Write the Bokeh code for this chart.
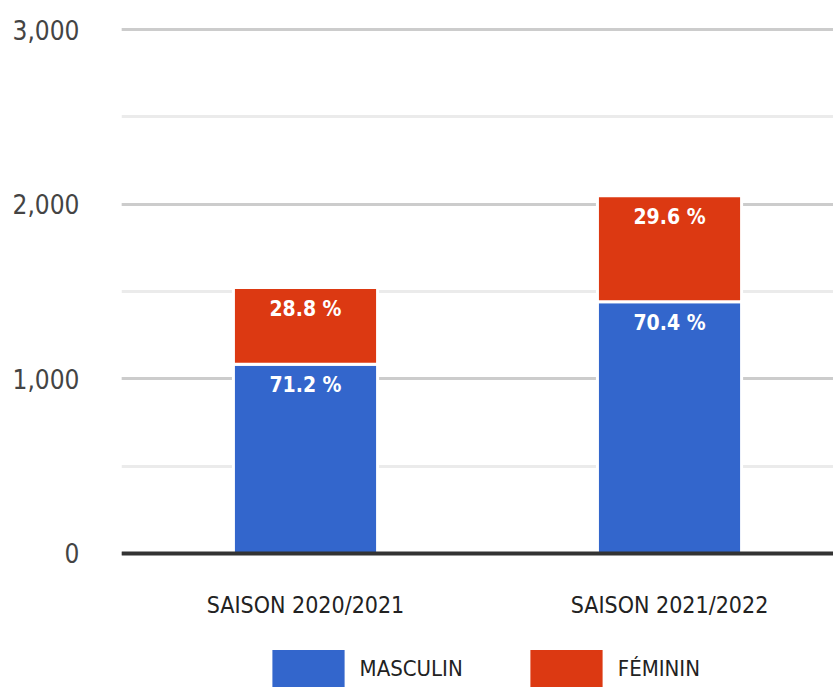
from bokeh.plotting import figure
from bokeh.models import (ColumnDataSource, Range1d, FixedTicker, SingleIntervalTicker,
                          NumeralTickFormatter, LabelSet)
from bokeh.core.properties import value
from bokeh.embed import file_html
from bokeh.resources import INLINE

# ---- data ----
seasons = ["SAISON 2020/2021", "SAISON 2021/2022"]
masculin = [1084, 1442]
feminin = [439, 607]
series_names = ["MASCULIN", "FÉMININ"]
colors = ["#3366cc", "#dc3912"]
y_min, y_max = 0, 3000

FONT = "DejaVu Sans Condensed"

x = [i + 0.5 for i in range(len(seasons))]
totals = [m + f for m, f in zip(masculin, feminin)]
masc_pct = ["%.1f %%" % (100.0 * m / t) for m, t in zip(masculin, totals)]
fem_pct = ["%.1f %%" % (100.0 * f / t) for f, t in zip(feminin, totals)]

source = ColumnDataSource(dict(
    x=x, masculin=masculin, feminin=feminin,
    masc_top=masculin, fem_top=totals,
    masc_pct=masc_pct, fem_pct=fem_pct,
))

p = figure(width=833, height=693, output_backend="svg", toolbar_location=None,
           x_range=Range1d(-0.0055, 1.9505), y_range=Range1d(-801.7, 3075),
           min_border_left=121, min_border_right=0, min_border_top=16,
           min_border_bottom=0)
p.outline_line_color = None
p.background_fill_color = "white"
p.border_fill_color = "white"

p.vbar_stack(["masculin", "feminin"], x="x", width=0.396, color=colors,
             line_color="white", line_width=3, source=source,
             legend_label=series_names)

# bar labels
for col, txt in (("masc_top", "masc_pct"), ("fem_top", "fem_pct")):
    p.add_layout(LabelSet(x="x", y=col, text=txt, source=source,
                          text_align="center", text_baseline="top",
                          y_offset=-9,
                          text_color="white", text_font=value(FONT),
                          text_font_size="21px", text_font_style="bold"))

# y axis
yax = p.yaxis[0]
yax.ticker = SingleIntervalTicker(interval=1000, num_minor_ticks=2)
yax.formatter = NumeralTickFormatter(format="0,0")
yax.bounds = (y_min, y_max)
yax.axis_line_color = None
yax.major_tick_line_color = None
yax.minor_tick_line_color = None
yax.major_label_standoff = 36
yax.major_label_text_font = FONT
yax.major_label_text_font_size = "26px"
yax.major_label_text_color = "#444444"

p.ygrid.ticker = SingleIntervalTicker(interval=1000, num_minor_ticks=2)
p.ygrid.bounds = (y_min, y_max)
p.ygrid.grid_line_color = "#cccccc"
p.ygrid.grid_line_width = 3
p.ygrid.minor_grid_line_color = "#ebebeb"
p.ygrid.minor_grid_line_width = 3
p.xgrid.grid_line_color = None

# x axis drawn at y = 0
xax = p.xaxis[0]
xax.fixed_location = 0
xax.ticker = FixedTicker(ticks=x)
xax.major_label_overrides = {xi: s for xi, s in zip(x, seasons)}
xax.axis_line_color = "#333333"
xax.axis_line_width = 4
xax.major_tick_line_color = None
xax.minor_tick_line_color = None
xax.major_label_standoff = 33
xax.major_label_text_font = FONT
xax.major_label_text_font_size = "23px"
xax.major_label_text_color = "#222222"

# legend under the axis labels
lg = p.legend[0]
lg.orientation = "horizontal"
lg.location = (139.6, 0)
lg.margin = 0
lg.padding = 0
lg.spacing = 56
lg.label_standoff = 5
lg.glyph_width = 94
lg.glyph_height = 50
lg.border_line_color = None
lg.background_fill_alpha = 0
lg.label_text_font = FONT
lg.label_text_font_size = "22px"
lg.label_text_color = "#222222"

open("out.html", "w").write(file_html(p, INLINE))
